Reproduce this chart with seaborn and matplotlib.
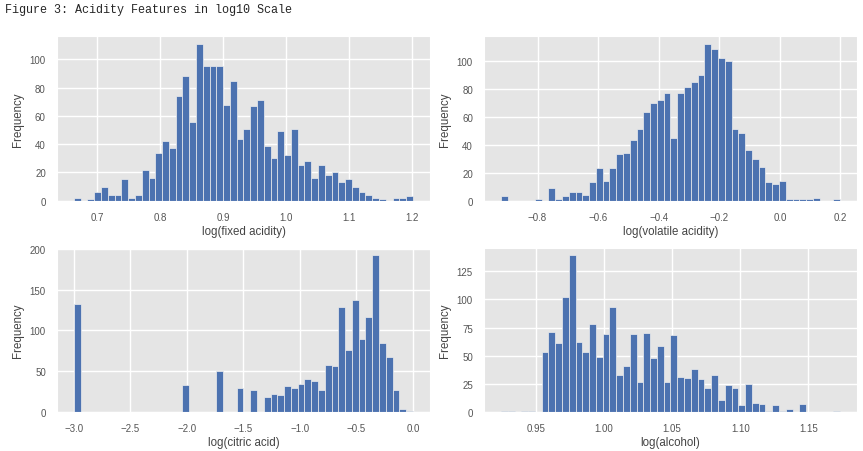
import numpy as np
import matplotlib.pyplot as plt
import seaborn as sns
from matplotlib.ticker import MultipleLocator

# bin counts (50 bins each)
fixed_range = (0.6628, 1.2014)
fixed_counts = [2, 0, 1, 6, 10, 4, 4, 15, 2, 4,
                22, 16, 34, 42, 37, 74, 88, 56, 111, 95,
                95, 95, 68, 85, 44, 51, 67, 71, 39, 30,
                49, 32, 51, 25, 28, 16, 25, 18, 20, 13,
                15, 10, 6, 4, 2, 1, 0, 2, 2, 3]

volatile_range = (-0.9208, 0.1987)
volatile_counts = [3, 0, 0, 0, 0, 1, 0, 9, 1, 3,
                   6, 6, 4, 13, 23, 14, 23, 33, 34, 43,
                   51, 63, 70, 72, 77, 45, 77, 81, 85, 90,
                   112, 108, 102, 100, 51, 48, 36, 30, 24, 13,
                   12, 14, 1, 1, 1, 1, 2, 0, 0, 1]

citric_range = (-3.0, 0.0)
citric_counts = [132, 0, 0, 0, 0, 0, 0, 0, 0, 0,
                 0, 0, 0, 0, 0, 0, 33, 0, 0, 0,
                 0, 50, 0, 0, 29, 0, 27, 0, 19, 22,
                 21, 32, 29, 34, 41, 38, 27, 58, 57, 129,
                 76, 137, 89, 116, 192, 85, 68, 27, 4, 1]

alcohol_range = (0.9243, 1.1732)
alcohol_counts = [1, 1, 0, 1, 1, 0, 53, 71, 61, 102,
                  139, 62, 53, 78, 49, 69, 93, 33, 41, 69,
                  27, 70, 48, 59, 27, 68, 31, 30, 38, 29,
                  21, 33, 11, 24, 21, 6, 25, 8, 7, 1,
                  6, 1, 3, 0, 7, 0, 0, 0, 0, 1]

panels = [
    ('log(fixed acidity)', fixed_range, fixed_counts, 20),
    ('log(volatile acidity)', volatile_range, volatile_counts, 20),
    ('log(citric acid)', citric_range, citric_counts, 50),
    ('log(alcohol)', alcohol_range, alcohol_counts, 25),
]

sns.set_style('darkgrid', {'axes.facecolor': '#E5E5E5', 'grid.color': 'white'})
plt.rcParams['font.family'] = ['Liberation Sans', 'DejaVu Sans']

fig, axes = plt.subplots(2, 2, figsize=(8.63, 4.52), dpi=100)
plt.subplots_adjust(left=0.066, right=0.993, top=0.918, bottom=0.086,
                    wspace=0.145, hspace=0.285)

for ax, (label, rng, counts, ystep) in zip(axes.flat, panels):
    n = len(counts)
    width = (rng[1] - rng[0]) / n
    centers = rng[0] + width * (np.arange(n) + 0.5)
    sns.histplot(x=centers, weights=counts, bins=n, binrange=rng, ax=ax,
                 color='#4C72B0', alpha=1, edgecolor='#EEEEEE', linewidth=0.5)
    ax.yaxis.set_major_locator(MultipleLocator(ystep))
    ax.set_xlabel(label, fontsize=8.3, color='#444444', labelpad=2)
    ax.set_ylabel('Frequency', fontsize=8.3, color='#444444', labelpad=4)
    ax.tick_params(labelsize=7, colors='#555555', length=0, pad=8)
    ax.grid(True, color='white', linewidth=1)

fig.text(0.006, 0.978, 'Figure 3: Acidity Features in log10 Scale',
         fontsize=8.5, family='Liberation Mono', ha='left', va='center')

fig.savefig('out.png', dpi=100)
